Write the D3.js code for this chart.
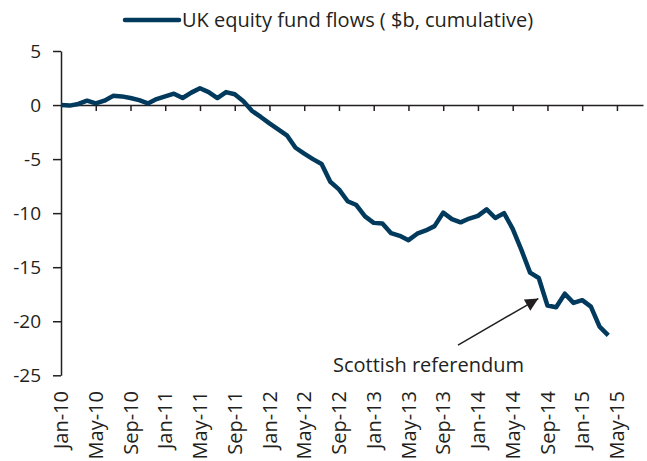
<!DOCTYPE html>
<html>
<head>
<meta charset="utf-8">
<script src="https://cdn.jsdelivr.net/npm/d3@7"></script>
<style>
  body { margin: 0; background: #fff; }
  text { font-family: "Open Sans", sans-serif; fill: #231f20; }
  .axis path, .axis line { stroke: #231f20; stroke-width: 1.5; }
</style>
</head>
<body>
<div id="chart-holder"></div>
<script>
// monthly cumulative flows, Jan-10 .. Apr-15
var flows = [
    0, -0.05, 0.1, 0.4, 0.15, 0.4, 0.85, 0.8, 0.65, 0.45, 0.15, 0.55,
    0.8, 1.05, 0.65, 1.15, 1.55, 1.2, 0.65, 1.2, 1.0, 0.35, -0.55, -1.1,
    -1.7, -2.25, -2.8, -3.95, -4.5, -5.0, -5.45, -7.1, -7.8, -8.9, -9.25, -10.3,
    -10.9, -10.95, -11.85, -12.1, -12.5, -11.9, -11.6, -11.2, -9.95, -10.55, -10.85, -10.5,
    -10.25, -9.65, -10.45, -10.0, -11.45, -13.4, -15.5, -16.0, -18.55, -18.7, -17.45, -18.3,
    -18.05, -18.65, -20.5, -21.3
];
var tickLabels = ['Jan-10', 'May-10', 'Sep-10', 'Jan-11', 'May-11', 'Sep-11', 'Jan-12', 'May-12',
    'Sep-12', 'Jan-13', 'May-13', 'Sep-13', 'Jan-14', 'May-14', 'Sep-14', 'Jan-15', 'May-15'];
var yTicks = [5, 0, -5, -10, -15, -20, -25];
var seriesName = 'UK equity fund flows ( $b, cumulative)';
var note = 'Scottish referendum';

function buildChart(containerId) {
    var width = 647;
    var height = 461;
    var lineColor = '#013a5c';

    var svg = d3
        .select(containerId)
        .append('svg')
        .attr('width', width)
        .attr('height', height);

    // month index scale (0 = Jan-10), axis runs a few months past the data
    var x = d3.scaleLinear().domain([0, 67]).range([61, 643]);
    var y = d3.scaleLinear().domain([-25, 5]).range([375.3, 51]);

    // y axis
    var yAxis = d3.axisLeft(y).tickValues(yTicks).tickSize(8).tickSizeOuter(0).tickPadding(12)
        .tickFormat(d3.format('d'));
    var yg = svg.append('g')
        .attr('class', 'axis')
        .attr('transform', 'translate(' + x(0) + ',0)')
        .call(yAxis);
    yg.selectAll('text')
        .style('font-size', '19px')
        .style('font-family', '"Open Sans", sans-serif')
        .attr('fill', '#231f20')
        .text(function(d) { return d < 0 ? '-' + Math.abs(d) : d; });

    // x axis sits on zero
    var xTickValues = tickLabels.map(function(d, i) { return i * 4; });
    var xAxis = d3.axisBottom(x).tickValues(xTickValues.slice(1)).tickSize(6).tickSizeOuter(0)
        .tickFormat('');
    svg.append('g')
        .attr('class', 'axis')
        .attr('transform', 'translate(0,' + y(0) + ')')
        .call(xAxis);

    // rotated month labels under the plot
    svg.selectAll('.x-label')
        .data(tickLabels)
        .enter()
        .append('text')
        .attr('class', 'x-label')
        .attr('transform', function(d, i) {
            return 'translate(' + x(i * 4) + ',391) rotate(-90)';
        })
        .attr('text-anchor', 'end')
        .attr('dy', '0.36em')
        .style('font-size', '20px')
        .text(function(d) { return d; });

    // the series
    var line = d3.line()
        .x(function(d, i) { return x(i); })
        .y(function(d) { return y(d); });

    svg.append('path')
        .datum(flows)
        .attr('d', line)
        .attr('fill', 'none')
        .attr('stroke', lineColor)
        .attr('stroke-width', 4.5)
        .attr('stroke-linejoin', 'round');

    // legend
    svg.append('line')
        .attr('x1', 125).attr('x2', 179)
        .attr('y1', 20).attr('y2', 20)
        .attr('stroke', lineColor)
        .attr('stroke-width', 4.5)
        .attr('stroke-linecap', 'round');
    svg.append('text')
        .attr('x', 182)
        .attr('y', 27)
        .style('font-size', '20px')
        .text(seriesName);

    // annotation arrow
    var defs = svg.append('defs');
    defs.append('marker')
        .attr('id', 'arrow')
        .attr('viewBox', '0 0 10 10')
        .attr('refX', 10).attr('refY', 5)
        .attr('markerWidth', 14).attr('markerHeight', 13)
        .attr('markerUnits', 'userSpaceOnUse')
        .attr('orient', 'auto')
        .append('path')
        .attr('d', 'M0,0L10,5L0,10Z')
        .attr('fill', '#231f20');

    svg.append('line')
        .attr('x1', x(45.7)).attr('y1', y(-22.2))
        .attr('x2', x(54.95)).attr('y2', y(-17.9))
        .attr('stroke', '#231f20')
        .attr('stroke-width', 1.5)
        .attr('marker-end', 'url(#arrow)');

    svg.append('text')
        .attr('x', 333)
        .attr('y', 372)
        .style('font-size', '20px')
        .text(note);
}

buildChart('#chart-holder');
</script>
</body>
</html>
